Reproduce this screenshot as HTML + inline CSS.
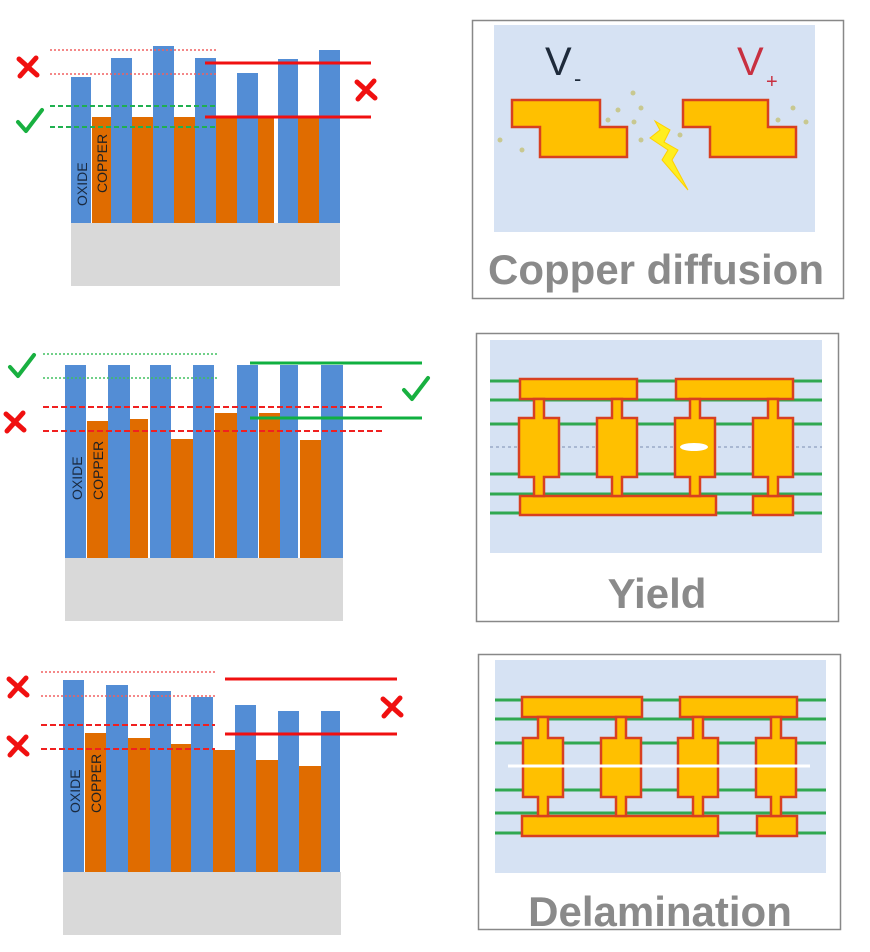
<!DOCTYPE html>
<html><head><meta charset="utf-8"><style>html,body{margin:0;padding:0;background:#fff}svg{display:block}</style></head><body>
<svg width="870" height="952" viewBox="0 0 870 952" xmlns="http://www.w3.org/2000/svg" font-family="Liberation Sans, sans-serif">
<defs>
<g id="chk"><path d="M-12,0 L-4,9 L12,-12" fill="none" stroke="#18b040" stroke-width="4" stroke-linecap="round" stroke-linejoin="round"/></g>
<g id="x"><path d="M-9,-8 L9,8 M8,-9 L-8,9" stroke="#f01010" stroke-width="5" stroke-linecap="round"/></g>
</defs>
<!-- Panel 1 -->
<rect x="71" y="223" width="269" height="63" fill="#d9d9d9"/>
<g fill="#e06c00">
<rect x="92" y="117" width="19" height="106"/><rect x="132" y="117" width="21" height="106"/><rect x="174" y="117" width="21" height="106"/><rect x="216" y="117" width="21" height="106"/><rect x="258" y="117" width="16" height="106"/><rect x="298" y="117" width="21" height="106"/>
</g>
<g fill="#538dd5">
<rect x="71" y="77" width="20" height="146"/><rect x="111" y="58" width="21" height="165"/><rect x="153" y="46" width="21" height="177"/><rect x="195" y="58" width="21" height="165"/><rect x="237" y="73" width="21" height="150"/><rect x="278" y="59" width="20" height="164"/><rect x="319" y="50" width="21" height="173"/>
</g>
<text transform="translate(87,206) rotate(-90)" font-size="14" fill="#1a2a40">OXIDE</text>
<text transform="translate(107,193) rotate(-90)" font-size="14" fill="#222">COPPER</text>
<g stroke="#f06060" stroke-width="1.5" stroke-dasharray="2,2"><line x1="50" y1="50" x2="218" y2="50"/><line x1="50" y1="74" x2="218" y2="74"/></g>
<g stroke="#20b050" stroke-width="2" stroke-dasharray="5,3"><line x1="50" y1="106" x2="217" y2="106"/><line x1="50" y1="127" x2="217" y2="127"/></g>
<g stroke="#f01010" stroke-width="3"><line x1="205" y1="63" x2="371" y2="63"/><line x1="205" y1="117" x2="371" y2="117"/></g>
<use href="#x" x="28" y="67"/><use href="#x" x="366" y="90"/><use href="#chk" x="30" y="122"/>
<!-- Panel 2 -->
<rect x="65" y="558" width="278" height="63" fill="#d9d9d9"/>
<g fill="#e06c00">
<rect x="87" y="421" width="21" height="137"/><rect x="130" y="419" width="18" height="139"/><rect x="171" y="439" width="22" height="119"/><rect x="215" y="413" width="22" height="145"/><rect x="259" y="413" width="21" height="145"/><rect x="300" y="440" width="21" height="118"/>
</g>
<g fill="#538dd5">
<rect x="65" y="365" width="21" height="193"/><rect x="108" y="365" width="22" height="193"/><rect x="150" y="365" width="21" height="193"/><rect x="193" y="365" width="21" height="193"/><rect x="237" y="365" width="21" height="193"/><rect x="280" y="365" width="18" height="193"/><rect x="321" y="365" width="22" height="193"/>
</g>
<text transform="translate(82,500) rotate(-90)" font-size="14" fill="#1a2a40">OXIDE</text>
<text transform="translate(103,500) rotate(-90)" font-size="14" fill="#222">COPPER</text>
<g stroke="#40c060" stroke-width="1.5" stroke-dasharray="2,2"><line x1="43" y1="354" x2="217" y2="354"/><line x1="43" y1="378" x2="217" y2="378"/></g>
<g stroke="#f02020" stroke-width="2" stroke-dasharray="6,3"><line x1="43" y1="407" x2="383" y2="407"/><line x1="43" y1="431" x2="383" y2="431"/></g>
<g stroke="#10b040" stroke-width="3"><line x1="250" y1="363" x2="422" y2="363"/><line x1="250" y1="418" x2="422" y2="418"/></g>
<use href="#chk" x="22" y="367"/><use href="#chk" x="416" y="390"/><use href="#x" x="15" y="422"/>
<!-- Panel 3 -->
<rect x="63" y="872" width="278" height="63" fill="#d9d9d9"/>
<g fill="#e06c00">
<rect x="85" y="733" width="21" height="139"/><rect x="128" y="738" width="22" height="134"/><rect x="171" y="744" width="20" height="128"/><rect x="213" y="750" width="22" height="122"/><rect x="256" y="760" width="22" height="112"/><rect x="299" y="766" width="22" height="106"/>
</g>
<g fill="#538dd5">
<rect x="63" y="680" width="21" height="192"/><rect x="106" y="685" width="22" height="187"/><rect x="150" y="691" width="21" height="181"/><rect x="191" y="697" width="22" height="175"/><rect x="235" y="705" width="21" height="167"/><rect x="278" y="711" width="21" height="161"/><rect x="321" y="711" width="19" height="161"/>
</g>
<text transform="translate(80,813) rotate(-90)" font-size="14" fill="#1a2a40">OXIDE</text>
<text transform="translate(101,813) rotate(-90)" font-size="14" fill="#222">COPPER</text>
<g stroke="#f06060" stroke-width="1.5" stroke-dasharray="2,2"><line x1="41" y1="672" x2="215" y2="672"/><line x1="41" y1="696" x2="215" y2="696"/></g>
<g stroke="#f02020" stroke-width="2" stroke-dasharray="6,3"><line x1="41" y1="725" x2="215" y2="725"/><line x1="41" y1="749" x2="215" y2="749"/></g>
<g stroke="#f01010" stroke-width="3"><line x1="225" y1="679" x2="397" y2="679"/><line x1="225" y1="734" x2="397" y2="734"/></g>
<use href="#x" x="18" y="687"/><use href="#x" x="18" y="746"/><use href="#x" x="392" y="707"/>

<!-- Right panel 1 -->
<rect x="472.5" y="20.5" width="371" height="278" fill="#fff" stroke="#888" stroke-width="1.5"/>
<rect x="494" y="25" width="321" height="207" fill="#d6e2f3"/>
<text x="545" y="75" font-size="40" fill="#1e2a3a">V</text><text x="574" y="86" font-size="22" fill="#1e2a3a">-</text>
<text x="737" y="75" font-size="40" fill="#c83040">V</text><text x="766" y="88" font-size="20" fill="#c83040">+</text>
<g fill="#ffc000" stroke="#d84020" stroke-width="2.5">
<path d="M512,100 H600 V127 H627 V157 H540 V127 H512 Z"/>
<path d="M683,100 H768 V127 H796 V157 H710 V127 H683 Z"/>
</g>
<path d="M655,121 L670,130 L664,142 L678,150 L672,160 L688,190 L662,160 L668,150 L650,138 L660,130 Z" fill="#ffee20" stroke="#ffd000" stroke-width="1"/>
<g fill="#c8c890"><circle cx="633" cy="93" r="2.5"/><circle cx="641" cy="108" r="2.5"/><circle cx="618" cy="110" r="2.5"/><circle cx="608" cy="120" r="2.5"/><circle cx="634" cy="122" r="2.5"/><circle cx="641" cy="140" r="2.5"/><circle cx="500" cy="140" r="2.5"/><circle cx="522" cy="150" r="2.5"/><circle cx="680" cy="135" r="2.5"/><circle cx="793" cy="108" r="2.5"/><circle cx="806" cy="122" r="2.5"/><circle cx="778" cy="120" r="2.5"/></g>
<text x="656" y="284" font-size="42" font-weight="bold" fill="#8a8a8a" text-anchor="middle">Copper diffusion</text>

<!-- Right panel 2 -->
<rect x="476.5" y="333.5" width="362" height="288" fill="#fff" stroke="#888" stroke-width="1.5"/>
<rect x="490" y="340" width="332" height="213" fill="#d6e2f3"/>
<line x1="490" y1="447" x2="822" y2="447" stroke="#9aaac8" stroke-width="1.5" stroke-dasharray="3,3"/>
<g stroke="#30a850" stroke-width="3"><line x1="490" y1="381" x2="822" y2="381"/><line x1="490" y1="400" x2="822" y2="400"/><line x1="490" y1="424" x2="822" y2="424"/><line x1="490" y1="474" x2="822" y2="474"/><line x1="490" y1="494" x2="822" y2="494"/><line x1="490" y1="513" x2="822" y2="513"/></g>
<g fill="#ffc000" stroke="#d84020" stroke-width="2.5">
<rect x="520" y="379" width="117" height="20"/><rect x="676" y="379" width="117" height="20"/>
<rect x="520" y="496" width="196" height="19"/><rect x="753" y="496" width="40" height="19"/>
<path d="M534,399 H544 V418 H559 V477 H544 V496 H534 V477 H519 V418 H534 Z"/>
<path d="M612,399 H622 V418 H637 V477 H622 V496 H612 V477 H597 V418 H612 Z"/>
<path d="M690,399 H700 V418 H715 V477 H700 V496 H690 V477 H675 V418 H690 Z"/>
<path d="M768,399 H778 V418 H793 V477 H778 V496 H768 V477 H753 V418 H768 Z"/>
</g>
<ellipse cx="694" cy="447" rx="14" ry="4" fill="#fff"/>
<text x="657" y="608" font-size="42" font-weight="bold" fill="#8a8a8a" text-anchor="middle">Yield</text>

<!-- Right panel 3 -->
<rect x="478.5" y="654.5" width="362" height="275" fill="#fff" stroke="#888" stroke-width="1.5"/>
<rect x="495" y="660" width="331" height="213" fill="#d6e2f3"/>
<g stroke="#30a850" stroke-width="3"><line x1="495" y1="700" x2="826" y2="700"/><line x1="495" y1="719" x2="826" y2="719"/><line x1="495" y1="743" x2="826" y2="743"/><line x1="495" y1="790" x2="826" y2="790"/><line x1="495" y1="813" x2="826" y2="813"/><line x1="495" y1="833" x2="826" y2="833"/></g>
<g fill="#ffc000" stroke="#d84020" stroke-width="2.5">
<rect x="522" y="697" width="120" height="20"/><rect x="680" y="697" width="117" height="20"/>
<rect x="522" y="816" width="196" height="20"/><rect x="757" y="816" width="40" height="20"/>
<path d="M538,717 H548 V738 H563 V797 H548 V816 H538 V797 H523 V738 H538 Z"/>
<path d="M616,717 H626 V738 H641 V797 H626 V816 H616 V797 H601 V738 H616 Z"/>
<path d="M693,717 H703 V738 H718 V797 H703 V816 H693 V797 H678 V738 H693 Z"/>
<path d="M771,717 H781 V738 H796 V797 H781 V816 H771 V797 H756 V738 H771 Z"/>
</g>
<line x1="508" y1="766" x2="810" y2="766" stroke="#fff" stroke-width="3"/>
<svg x="478" y="654" width="362" height="275"><text x="182" y="272" font-size="42" font-weight="bold" fill="#8a8a8a" text-anchor="middle">Delamination</text></svg>
</svg>
</body></html>
